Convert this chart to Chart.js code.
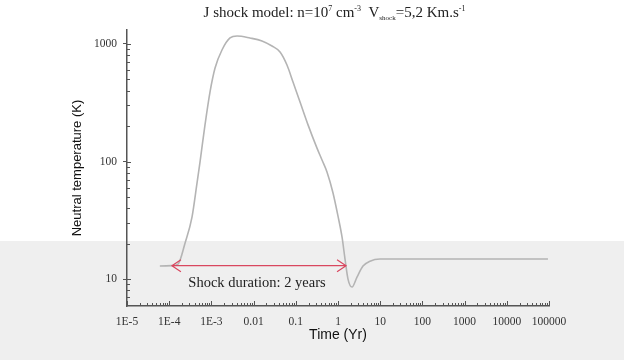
<!DOCTYPE html>
<html>
<head>
<meta charset="utf-8">
<script src="https://cdn.jsdelivr.net/npm/chart.js@4.4.1/dist/chart.umd.min.js"></script>
<style>
  html, body { margin:0; padding:0; }
  body { width:624px; height:360px; overflow:hidden;
    background: linear-gradient(to bottom, #ffffff 0px, #ffffff 241px, #efefef 241px, #efefef 360px); }
  #wrap { position:relative; width:624px; height:360px; }
  #title { position:absolute; left:0; top:4px; width:669px; text-align:center; white-space:nowrap;
    font-family:"Liberation Serif", "Times New Roman", serif; font-size:15px; line-height:16px; color:#222; }
  #title sup { font-size:8px; vertical-align:6px; line-height:0; }
  #title sub { font-size:7px; vertical-align:-3px; line-height:0; }
  canvas { position:absolute; left:0; top:0; }
</style>
</head>
<body>
<div id="wrap">
  <canvas id="c" width="624" height="360"></canvas>
  <div id="title">J shock model: n=10<sup>7</sup> cm<sup>-3</sup>&nbsp;&nbsp;V<sub>shock</sub>=5,2 Km.s<sup>-1</sup></div>
</div>
<script>
// ---- data ----
const timeYr = [6.0e-5, 1.16e-4, 1.62e-4, 2.37e-4, 3.47e-4, 4.56e-4, 5.37e-4, 7.05e-4, 9.26e-4, 1.22e-3,
  1.78e-3, 2.76e-3, 4.05e-3, 8.2e-3, 0.0158, 0.0273, 0.0423, 0.0618, 0.0859, 0.126,
  0.195, 0.318, 0.418, 0.548, 0.762, 1.0, 1.245, 1.466, 1.726, 2.15,
  2.82, 3.91, 5.73, 9.89, 451, 94600];
const tempK = [12.9, 13.0, 13.4, 20.2, 33.7, 65.6, 99, 205, 390, 625,
  889, 1125, 1170, 1125, 1062, 961, 855, 662, 475, 321,
  205, 130, 103, 81.5, 54, 34.3, 22.8, 14.8, 10.0, 8.55,
  10.4, 12.9, 14.2, 14.8, 14.8, 14.8];
const xTickLabels = ['1E-5','1E-4','1E-3','0.01','0.1','1','10','100','1000','10000','100000'];
const yTickLabels = ['10','100','1000'];
const shockStart = 1.16e-4, shockEnd = 1.55, shockTemp = 13.0;
const shockLabel = 'Shock duration: 2 years';

const xMin = 1e-5, xMax = 1e5, yMin = 5.9, yMax = 1315;

function isMajor(v){ const l = Math.log10(v); return Math.abs(l - Math.round(l)) < 1e-6; }
function logTicks(min, max){
  const out = [];
  for (let e = Math.floor(Math.log10(min)); e <= Math.ceil(Math.log10(max)); e++){
    for (let m = 1; m <= 9; m++){
      const v = m * Math.pow(10, e);
      if (v >= min*0.9999 && v <= max*1.0001) out.push({value: v});
    }
  }
  return out;
}
function majorLabel(v, labels){
  const e = Math.round(Math.log10(v));
  const key = labels === xTickLabels ? e + 5 : e - 1;
  return labels[key] !== undefined ? labels[key] : '';
}

const innerTicks = {
  id: 'innerTicks',
  afterDraw(chart){
    const {ctx, scales:{x, y}} = chart;
    ctx.save();
    ctx.strokeStyle = '#555';
    ctx.lineWidth = 1;
    x.ticks.forEach(t => {
      const px = Math.round(x.getPixelForValue(t.value)) + 0.5;
      const len = isMajor(t.value) ? 5 : 3;
      ctx.beginPath(); ctx.moveTo(px, x.top); ctx.lineTo(px, x.top - len); ctx.stroke();
    });
    y.ticks.forEach(t => {
      const py = Math.round(y.getPixelForValue(t.value)) + 0.5;
      const len = isMajor(t.value) ? 4 : 3;
      ctx.beginPath(); ctx.moveTo(y.right, py); ctx.lineTo(y.right + len, py); ctx.stroke();
    });
    ctx.restore();
  }
};

const shockArrow = {
  id: 'shockArrow',
  afterDatasetsDraw(chart){
    const {ctx, scales:{x, y}} = chart;
    const x1 = x.getPixelForValue(shockStart), x2 = x.getPixelForValue(shockEnd);
    const py = y.getPixelForValue(shockTemp);
    ctx.save();
    ctx.strokeStyle = '#d9475f';
    ctx.lineWidth = 1.2;
    ctx.beginPath();
    ctx.moveTo(x1, py); ctx.lineTo(x2, py);
    ctx.moveTo(x1 + 9, py - 6); ctx.lineTo(x1, py); ctx.lineTo(x1 + 9, py + 6);
    ctx.moveTo(x2 - 9, py - 6); ctx.lineTo(x2, py); ctx.lineTo(x2 - 9, py + 6);
    ctx.stroke();
    ctx.fillStyle = '#222';
    ctx.font = '14.5px "Liberation Serif", "Times New Roman", serif';
    ctx.textAlign = 'center';
    ctx.textBaseline = 'middle';
    ctx.fillText(shockLabel, (x1 + x2) / 2 - 2, py + 18);
    ctx.restore();
  }
};

new Chart(document.getElementById('c'), {
  type: 'line',
  data: {
    datasets: [{
      data: timeYr.map((t, i) => ({x: t, y: tempK[i]})),
      borderColor: '#b4b4b4',
      borderWidth: 1.6,
      pointRadius: 0,
      fill: false,
      cubicInterpolationMode: 'monotone'
    }]
  },
  options: {
    responsive: false,
    animation: false,
    layout: { padding: { left: 70, right: 75, top: 30, bottom: 16 } },
    plugins: { legend: { display: false }, title: { display: false }, tooltip: { enabled: false } },
    scales: {
      x: {
        type: 'logarithmic', min: xMin, max: xMax,
        afterBuildTicks: s => { s.ticks = logTicks(xMin, xMax); },
        afterFit: s => { s.height = 38; },
        border: { display: true, color: '#555', width: 1.5 },
        grid: { display: true, drawOnChartArea: false, drawTicks: false },
        ticks: {
          autoSkip: false, maxRotation: 0, padding: 9, color: '#333',
          font: { family: '"Liberation Serif", "Times New Roman", serif', size: 11.5 },
          callback: v => isMajor(v) ? majorLabel(v, xTickLabels) : ''
        },
        title: { display: true, text: 'Time (Yr)', color: '#111',
          font: { family: '"Liberation Sans", Arial, sans-serif', size: 14 },
          padding: { top: 0, bottom: 0 } }
      },
      y: {
        type: 'logarithmic', min: yMin, max: yMax,
        afterBuildTicks: s => { s.ticks = logTicks(yMin, yMax); },
        afterFit: s => { s.width = 57; },
        border: { display: true, color: '#555', width: 1.5 },
        grid: { display: true, drawOnChartArea: false, drawTicks: true, tickLength: 4,
          color: c => (c.tick && isMajor(c.tick.value)) ? '#555' : 'rgba(0,0,0,0)' },
        ticks: {
          autoSkip: false, padding: 6, color: '#333',
          font: { family: '"Liberation Serif", "Times New Roman", serif', size: 11.5 },
          callback: v => isMajor(v) ? majorLabel(v, yTickLabels) : ''
        },
        title: { display: true, text: 'Neutral temperature (K)', color: '#111',
          font: { family: '"Liberation Sans", Arial, sans-serif', size: 13 },
          padding: { top: 0, bottom: 0 } }
      }
    }
  },
  plugins: [innerTicks, shockArrow]
});
</script>
</body>
</html>
